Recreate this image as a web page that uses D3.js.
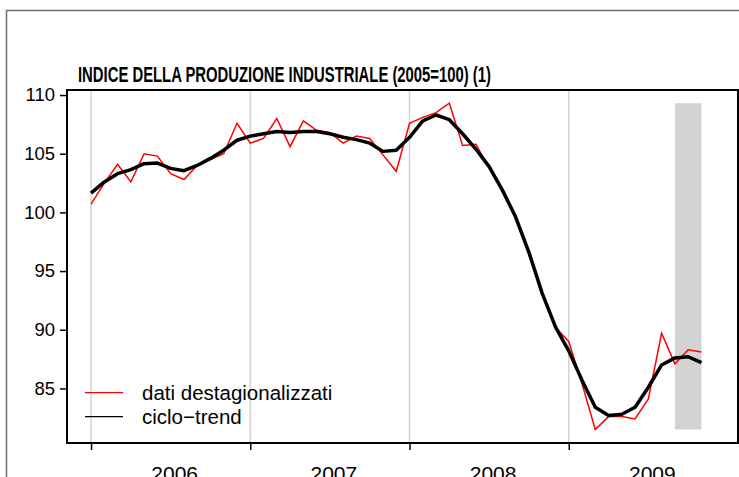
<!DOCTYPE html>
<meta charset="utf-8">
<style>
body { margin: 0; background: #fff; }
svg { display: block; font-family: "Liberation Sans", Arial, Helvetica, sans-serif; }
.axis path { display: none; }
.axis line { stroke: #000; stroke-width: 1.5; }
.axis text { font-size: 18.5px; fill: #000; }
.year { font-size: 21px; }
.legend text { font-size: 20.5px; }
</style>
<svg width="739" height="477"></svg>
<script src="https://d3js.org/d3.v7.min.js"></script>
<script>
// Jan 2006 .. Nov 2009, monthly
var months = d3.range(47).map(function(i) { return 2006 + i / 12; });

var destag = [100.7, 102.5, 104.1, 102.6, 105.0, 104.8, 103.3, 102.8, 104.0, 104.5, 105.0, 107.6,
              105.9, 106.3, 108.0, 105.6, 107.8, 107.0, 106.8, 105.9, 106.5, 106.3, 104.9, 103.5,
              107.6, 108.1, 108.5, 109.3, 105.7, 105.8, 103.8, 101.8, 99.5, 96.4, 93.1, 90.2,
              89.0, 85.4, 81.5, 82.6, 82.6, 82.4, 84.1, 89.7, 87.1, 88.3, 88.1];

var trend = [101.65, 102.6, 103.3, 103.65, 104.15, 104.2, 103.75, 103.55, 104.0, 104.6, 105.3, 106.15,
             106.5, 106.7, 106.9, 106.8, 106.9, 106.9, 106.7, 106.4, 106.2, 105.9, 105.2, 105.3,
             106.4, 107.8, 108.3, 107.9, 106.7, 105.4, 103.9, 101.9, 99.6, 96.6, 93.1, 90.25,
             88.2, 85.7, 83.4, 82.7, 82.8, 83.4, 85.1, 87.0, 87.6, 87.7, 87.2];

var years = [2006, 2007, 2008, 2009];
var yTicks = [85, 90, 95, 100, 105, 110];
var shadeFrom = 44, shadeTo = 46;   // month indices of the shaded band

var svg = d3.select("svg");
var pl = 67, pr = 738, pt = 90, pb = 443;

var x = d3.scaleLinear().domain([2005.849, 2010.063]).range([pl, pr]);
var y = d3.scaleLinear().domain([80.35, 110.43]).range([pb, pt]);

// outer frame
svg.append("path")
    .attr("d", "M6.5,477V10.5H739")
    .attr("fill", "none")
    .attr("stroke", "#6e6e6e")
    .attr("stroke-width", 1.5);

svg.append("text")
    .attr("x", 284.5)
    .attr("y", 81.5)
    .attr("text-anchor", "middle")
    .attr("font-weight", "bold")
    .attr("font-size", 21.5)
    .attr("textLength", 413)
    .attr("lengthAdjust", "spacingAndGlyphs")
    .text("INDICE DELLA PRODUZIONE INDUSTRIALE (2005=100) (1)");

// year grid
svg.selectAll(".grid")
  .data(years)
  .enter().append("line")
    .attr("class", "grid")
    .attr("x1", function(d) { return x(d); })
    .attr("x2", function(d) { return x(d); })
    .attr("y1", pt)
    .attr("y2", pb)
    .attr("stroke", "#d3d3d3")
    .attr("stroke-width", 1.5);

// shaded band
var shadeLo = d3.min(destag), shadeHi = d3.max(destag);
svg.append("rect")
    .attr("x", x(months[shadeFrom]))
    .attr("width", x(months[shadeTo]) - x(months[shadeFrom]))
    .attr("y", y(shadeHi))
    .attr("height", y(shadeLo) - y(shadeHi))
    .attr("fill", "#d3d3d3");

var line = function(vals) {
  return d3.line()
      .x(function(d, i) { return x(months[i]); })
      .y(function(d) { return y(d); })(vals);
};

svg.append("path")
    .attr("d", line(destag))
    .attr("fill", "none")
    .attr("stroke", "#ff0000")
    .attr("stroke-width", 1.5);

svg.append("path")
    .attr("d", line(trend))
    .attr("fill", "none")
    .attr("stroke", "#000")
    .attr("stroke-width", 3.5)
    .attr("stroke-linejoin", "round");

// axes
svg.append("g")
    .attr("class", "axis")
    .attr("transform", "translate(" + pl + ",0)")
    .call(d3.axisLeft(y).tickValues(yTicks).tickSize(7).tickPadding(5).tickSizeOuter(0));

svg.append("g")
    .attr("class", "axis")
    .attr("transform", "translate(0," + pb + ")")
    .call(d3.axisBottom(x).tickValues(years).tickSize(7).tickFormat("").tickSizeOuter(0));

svg.selectAll(".year")
  .data(years)
  .enter().append("text")
    .attr("class", "year")
    .attr("x", function(d) { return x(d + 0.5) + 4; })
    .attr("y", 481)
    .attr("text-anchor", "middle")
    .text(function(d) { return d; });

// plot box
svg.append("rect")
    .attr("x", pl)
    .attr("y", pt)
    .attr("width", pr - pl)
    .attr("height", pb - pt)
    .attr("fill", "none")
    .attr("stroke", "#000")
    .attr("stroke-width", 2);

// legend
var legend = svg.append("g").attr("class", "legend");
var items = [["dati destagionalizzati", "#ff0000"], ["ciclo\u2212trend", "#000"]];
items.forEach(function(it, k) {
  var yy = 392.7 + k * 24;
  legend.append("line")
      .attr("x1", 85).attr("x2", 123)
      .attr("y1", yy).attr("y2", yy)
      .attr("stroke", it[1])
      .attr("stroke-width", 1.3);
  legend.append("text")
      .attr("x", 142)
      .attr("y", yy + 7.5)
      .text(it[0]);
});
</script>
